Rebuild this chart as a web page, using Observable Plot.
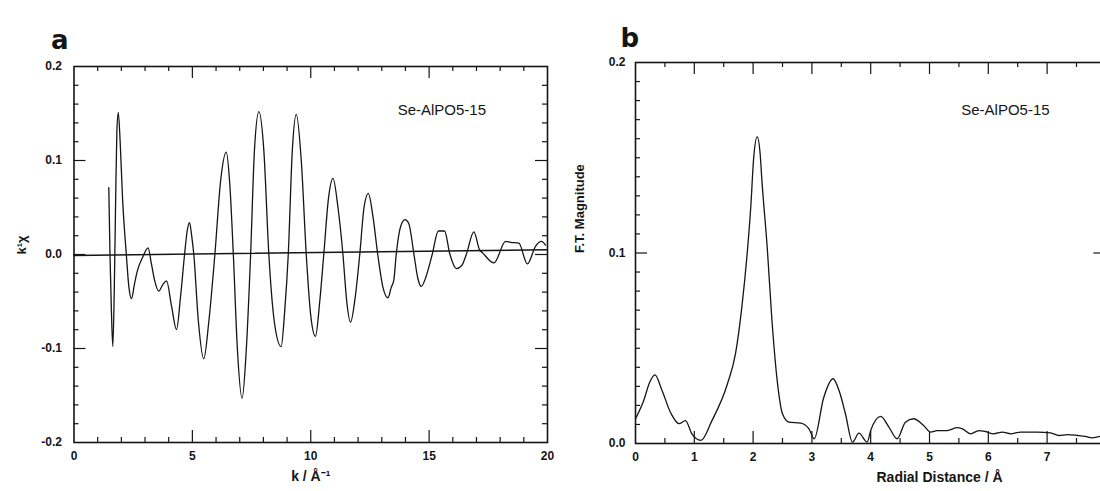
<!DOCTYPE html>
<html><head><meta charset="utf-8">
<script src="https://cdn.jsdelivr.net/npm/d3@7"></script>
<script src="https://cdn.jsdelivr.net/npm/@observablehq/plot@0.6"></script>
<style>
html,body{margin:0;padding:0;background:#fff;overflow:hidden;width:1100px;height:491px;}
#wrap{position:relative;width:1100px;height:491px;overflow:hidden;}
#pa,#pb{position:absolute;top:0;width:560px;height:491px;}
#pa{left:0;} #pb{left:560px;}
</style></head>
<body><div id="wrap"><div id="pa"></div><div id="pb"></div></div>
<script>
// ---- Panel a: EXAFS k^1 chi ----
const kValues = [1.47,1.52,1.58,1.64,1.70,1.76,1.81,1.87,1.95,2.05,2.21,2.32,2.43,2.55,2.67,2.90,3.13,3.27,3.40,3.58,3.75,3.91,4.12,4.33,4.50,4.67,4.78,4.88,4.97,5.06,5.25,5.48,5.70,5.95,6.20,6.43,6.58,6.73,6.90,7.10,7.28,7.46,7.62,7.81,8.02,8.23,8.48,8.75,8.90,9.05,9.22,9.39,9.60,9.81,10.00,10.20,10.38,10.55,10.75,10.94,11.15,11.36,11.52,11.68,11.88,12.07,12.25,12.43,12.63,12.83,13.05,13.26,13.40,13.51,13.61,13.80,13.98,14.14,14.36,14.52,14.67,14.85,15.13,15.39,15.65,15.88,16.15,16.37,16.57,16.89,17.13,17.25,17.74,18.23,18.44,18.79,19.15,19.50,19.74,19.92];
const chiValues = [0.071,0.000,-0.060,-0.098,-0.040,0.060,0.130,0.151,0.120,0.060,0.000,-0.035,-0.047,-0.032,-0.018,-0.003,0.007,-0.010,-0.027,-0.039,-0.032,-0.028,-0.055,-0.080,-0.045,0.000,0.025,0.034,0.020,0.000,-0.070,-0.111,-0.070,0.000,0.080,0.109,0.075,0.000,-0.100,-0.153,-0.100,0.000,0.110,0.152,0.110,0.000,-0.075,-0.098,-0.060,0.000,0.110,0.149,0.100,0.000,-0.065,-0.087,-0.050,0.000,0.060,0.081,0.050,0.000,-0.050,-0.072,-0.045,0.000,0.050,0.065,0.040,0.000,-0.035,-0.046,-0.035,-0.027,0.000,0.030,0.037,0.033,0.000,-0.025,-0.034,-0.025,0.000,0.025,0.025,0.000,-0.015,-0.012,0.000,0.024,0.005,0.002,-0.009,0.014,0.013,0.012,-0.010,0.009,0.014,0.010];
const baseK = [0, 20];
const baseChi = [-0.001, 0.005];
const kTickLabels = [0, 5, 10, 15, 20];
const kMinorTicks = [1,2,3,4,6,7,8,9,11,12,13,14,16,17,18,19];
const kMajorTicks = [5, 10, 15];
const chiTickLabels = [-0.2, -0.1, 0.0, 0.1, 0.2];
const chiMinorTicks = [-0.18,-0.16,-0.14,-0.12,-0.08,-0.06,-0.04,-0.02,0.02,0.04,0.06,0.08,0.12,0.14,0.16,0.18];
const chiMajorTicks = [-0.1, 0, 0.1];

// ---- Panel b: Fourier transform magnitude ----
const rValues = [0.00,0.14,0.24,0.33,0.45,0.60,0.74,0.85,0.96,1.11,1.30,1.56,1.70,1.81,1.90,1.96,2.01,2.07,2.12,2.15,2.24,2.32,2.41,2.50,2.61,2.81,2.95,3.04,3.20,3.36,3.47,3.57,3.69,3.80,3.94,4.00,4.17,4.31,4.45,4.59,4.73,4.90,5.02,5.13,5.30,5.47,5.56,5.70,5.84,5.95,6.09,6.24,6.38,6.55,6.83,7.06,7.20,7.35,7.52,7.65,7.77,7.91];
const ftValues = [0.013,0.0226,0.032,0.036,0.028,0.016,0.0104,0.012,0.005,0.0016,0.012,0.031,0.047,0.072,0.100,0.124,0.150,0.161,0.152,0.138,0.103,0.065,0.033,0.0156,0.0112,0.0107,0.0077,0.0025,0.024,0.034,0.027,0.0156,0.0007,0.0054,0.0007,0.0068,0.0142,0.0086,0.0025,0.0112,0.013,0.0095,0.006,0.0068,0.0068,0.0083,0.0077,0.0051,0.0068,0.0063,0.0051,0.006,0.0051,0.006,0.006,0.0056,0.0042,0.0047,0.0042,0.0037,0.003,0.0038];
const rTickLabels = [0, 1, 2, 3, 4, 5, 6, 7];
const rMinorTicks = [0.5,1.5,2.5,3.5,4.5,5.5,6.5,7.5];
const rMajorTicks = [1,2,3,4,5,6,7];
const ftTickLabels = [0.0, 0.1, 0.2];
const ftMinorTicks = [0.01,0.02,0.03,0.04,0.05,0.06,0.07,0.08,0.09,0.11,0.12,0.13,0.14,0.15,0.16,0.17,0.18,0.19];
const ftMajorTicks = [0.1];

const sampleName = "Se-AlPO5-15";
const ink = "#151515";
const baseStyle = {fontFamily: "'Liberation Sans', Arial, sans-serif", fontSize: "12px", fontWeight: "bold", color: ink, background: "transparent", overflow: "visible"};

function frameTicks(xMinor, xMajor, yMinor, yMajor, H, W) {
  const s = {stroke: ink, strokeWidth: 1.2};
  const minor = 5, major = 12;
  return [
    Plot.ruleX(xMinor, {...s, insetTop: H - minor}),
    Plot.ruleX(xMajor, {...s, insetTop: H - major}),
    Plot.ruleX(xMinor, {...s, insetBottom: H - minor}),
    Plot.ruleX(xMajor, {...s, insetBottom: H - major}),
    Plot.ruleY(yMinor, {...s, insetRight: W - minor}),
    Plot.ruleY(yMajor, {...s, insetRight: W - major}),
    Plot.ruleY(yMinor, {...s, insetLeft: W - minor}),
    Plot.ruleY(yMajor, {...s, insetLeft: W - major})
  ];
}

// Panel a geometry
const aML = 73.5, aMR = 13, aMT = 66, aMB = 49;
const aW = 560 - aML - aMR, aH = 491 - aMT - aMB;
const chiIdx = d3.range(kValues.length);
const plotA = Plot.plot({
  width: 560, height: 491,
  marginLeft: aML, marginRight: aMR, marginTop: aMT, marginBottom: aMB,
  style: baseStyle,
  x: {domain: [0, 20]},
  y: {domain: [-0.2, 0.2]},
  marks: [
    Plot.line([0, 1], {x: i => baseK[i], y: i => baseChi[i], stroke: ink, strokeWidth: 1.4}),
    Plot.line(chiIdx, {x: i => kValues[i], y: i => chiValues[i], curve: "monotone-x", stroke: ink, strokeWidth: 1.3}),
    ...frameTicks(kMinorTicks, kMajorTicks, chiMinorTicks, chiMajorTicks, aH, aW),
    Plot.frame({stroke: ink, strokeWidth: 1.6}),
    Plot.axisX(kTickLabels, {tickSize: 0, tickPadding: 9, tickFormat: d => String(d), label: null, fontSize: 12}),
    Plot.axisY(chiTickLabels, {tickSize: 0, tickPadding: 12, tickFormat: d => d.toFixed(1), label: null, fontSize: 12}),
    Plot.text(["k / Å⁻¹"], {frameAnchor: "bottom", dy: 38, fontSize: 14, fontWeight: "bold", letterSpacing: "1px"}),
    Plot.text(["k¹χ"], {frameAnchor: "left", dx: -52, rotate: -90, fontSize: 13, fontWeight: "bold"}),
    Plot.text([sampleName], {x: 13.67, y: 0.153, textAnchor: "start", fontSize: 15, fontWeight: "normal", letterSpacing: "2px"}),
    Plot.text(["a"], {frameAnchor: "top-left", dx: -23, dy: -36, fontSize: 26, fontWeight: 900, fontFamily: "'DejaVu Sans', sans-serif"})
  ]
});
document.getElementById("pa").appendChild(plotA);

// Panel b geometry
const bML = 75, bMR = 14.6, bMT = 62, bMB = 48;
const bW = 560 - bML - bMR, bH = 491 - bMT - bMB;
const ftIdx = d3.range(rValues.length);
const plotB = Plot.plot({
  width: 560, height: 491,
  marginLeft: bML, marginRight: bMR, marginTop: bMT, marginBottom: bMB,
  style: baseStyle,
  x: {domain: [0, 8]},
  y: {domain: [0, 0.2]},
  marks: [
    Plot.line(ftIdx, {x: i => rValues[i], y: i => ftValues[i], curve: "monotone-x", stroke: ink, strokeWidth: 1.3}),
    ...frameTicks(rMinorTicks, rMajorTicks, ftMinorTicks, ftMajorTicks, bH, bW),
    Plot.frame({stroke: ink, strokeWidth: 1.6}),
    Plot.axisX(rTickLabels, {tickSize: 0, tickPadding: 9, tickFormat: d => String(d), label: null, fontSize: 12}),
    Plot.axisY(ftTickLabels, {tickSize: 0, tickPadding: 10, tickFormat: d => d.toFixed(1), label: null, fontSize: 12}),
    Plot.text(["Radial Distance / Å"], {frameAnchor: "bottom-left", x: 0, dx: 241, dy: 38, fontSize: 14, fontWeight: "bold", letterSpacing: "1.2px"}),
    Plot.text(["F.T. Magnitude"], {frameAnchor: "left", dx: -56, rotate: -90, fontSize: 13, fontWeight: "bold"}),
    Plot.text([sampleName], {x: 5.54, y: 0.175, textAnchor: "start", fontSize: 15, fontWeight: "normal", letterSpacing: "2px"}),
    Plot.text(["b"], {frameAnchor: "top-left", dx: -15, dy: -34, fontSize: 26, fontWeight: 900, fontFamily: "'DejaVu Sans', sans-serif"})
  ]
});
document.getElementById("pb").appendChild(plotB);
</script>
</body></html>
